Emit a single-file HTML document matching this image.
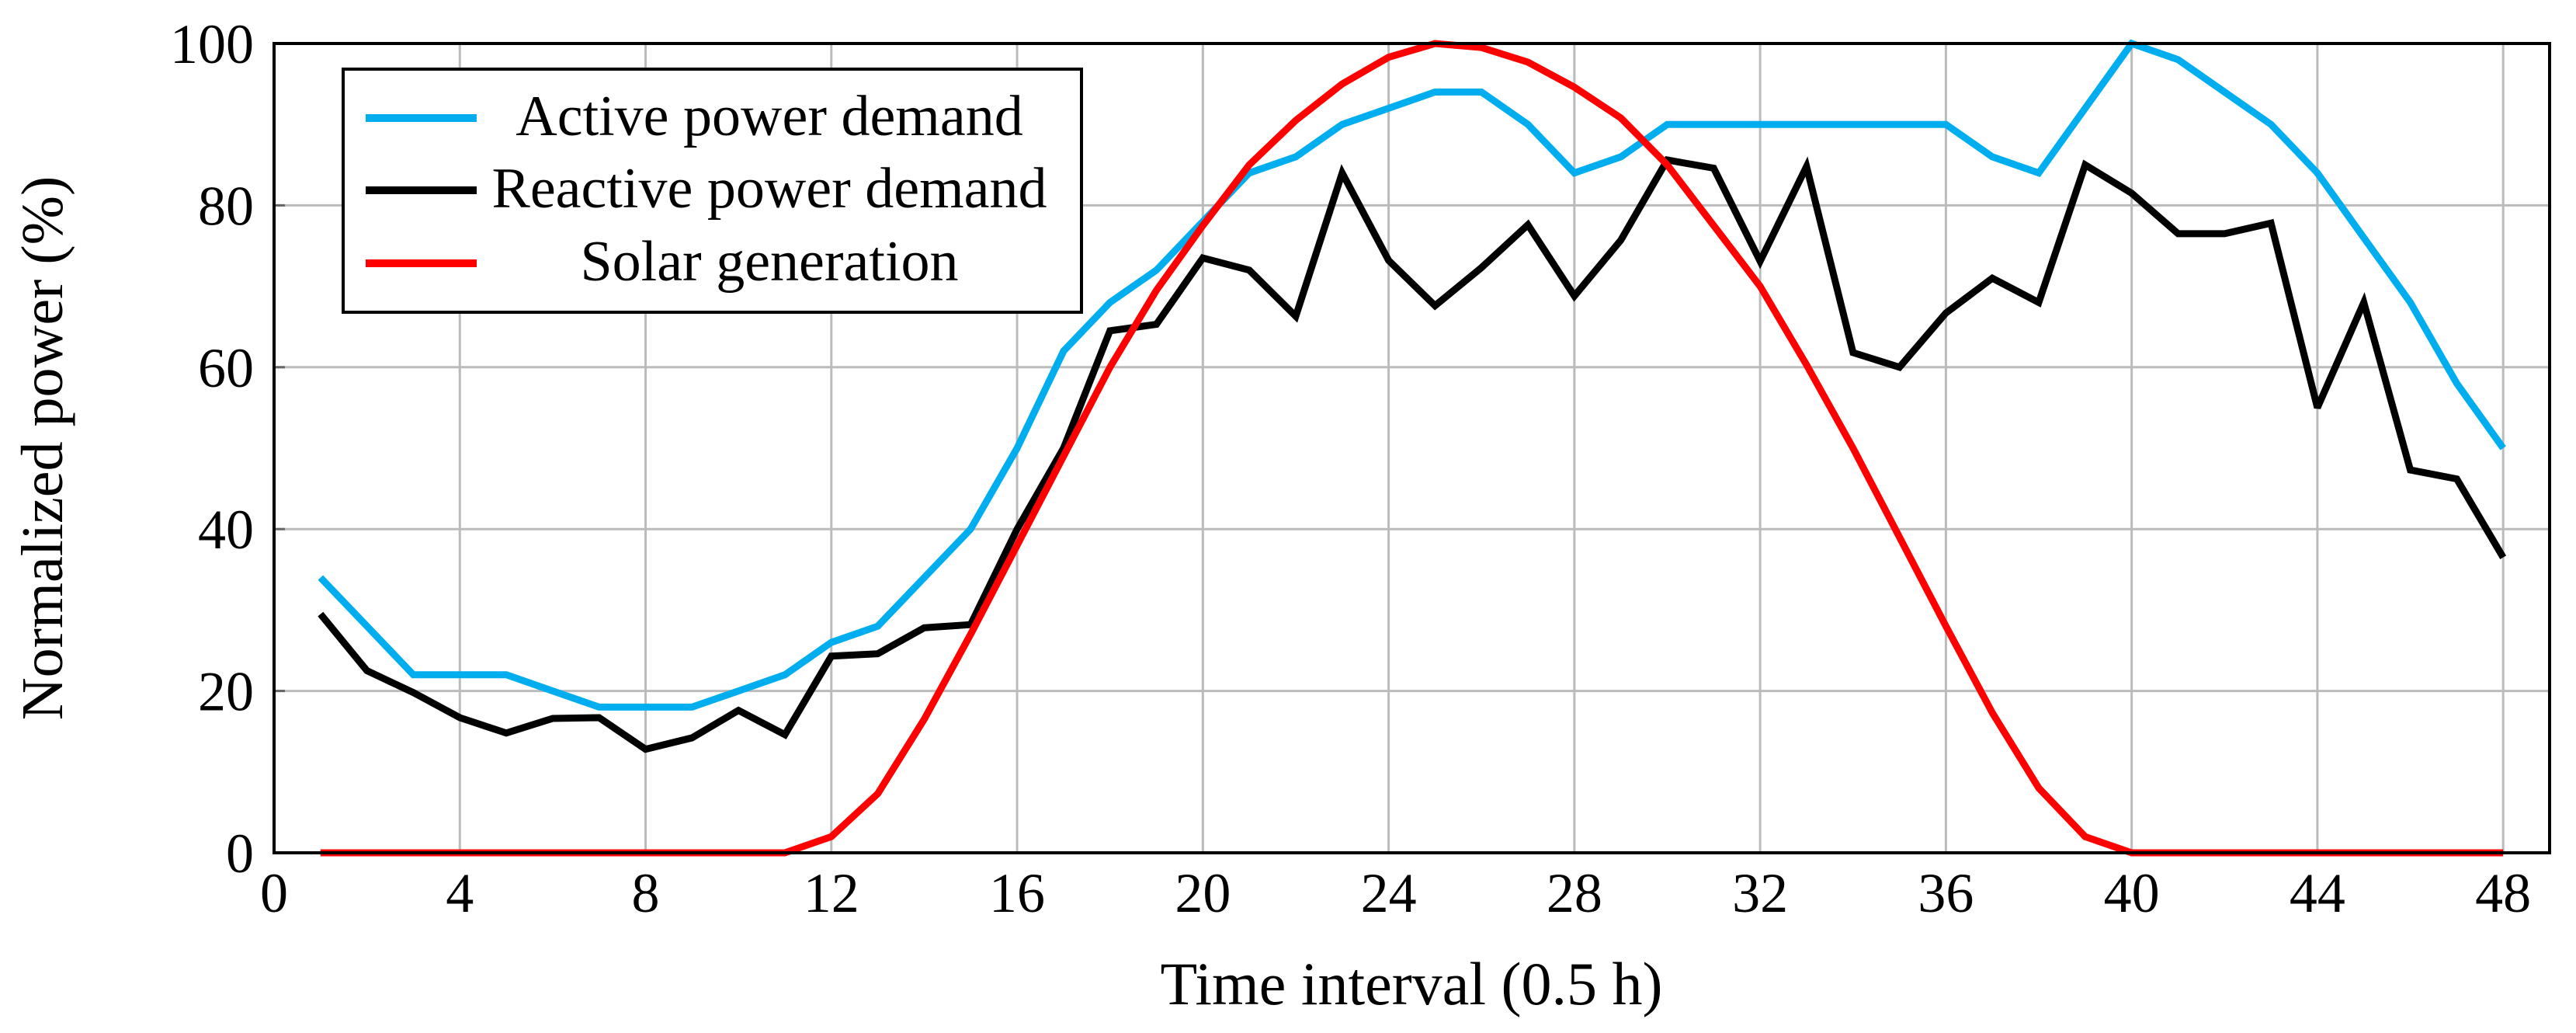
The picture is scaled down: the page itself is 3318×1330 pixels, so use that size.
<!DOCTYPE html>
<html><head><meta charset="utf-8"><style>
html,body{margin:0;padding:0;background:#fff;}
svg{display:block;font-family:"Liberation Serif",serif;}
</style></head><body>
<svg id="chart" width="3318" height="1330" xmlns="http://www.w3.org/2000/svg">
<g id="grid"></g>
<g id="series"></g>
<rect x="353" y="56" width="2931" height="1042" fill="none" stroke="#000" stroke-width="4"/>
<g id="ticks" font-size="72"></g>
<text x="1818" y="1293" font-size="78" text-anchor="middle">Time interval (0.5 h)</text>
<text transform="translate(80,577) rotate(-90)" font-size="76" text-anchor="middle">Normalized power (%)</text>
<g>
<rect x="442" y="89" width="951" height="313" fill="#fff" stroke="#000" stroke-width="4"/>
<line x1="471" y1="152" x2="614" y2="152" stroke="#00aeef" stroke-width="10"/>
<text x="991" y="174" font-size="74" text-anchor="middle">Active power demand</text>
<line x1="471" y1="245" x2="614" y2="245" stroke="#000" stroke-width="10"/>
<text x="991" y="267" font-size="74" text-anchor="middle">Reactive power demand</text>
<line x1="471" y1="339" x2="614" y2="339" stroke="#ff0000" stroke-width="10"/>
<text x="991" y="361" font-size="74" text-anchor="middle">Solar generation</text>
</g>
</svg>
<script>
const xTicks=[0,4,8,12,16,20,24,28,32,36,40,44,48];
const yTicks=[0,20,40,60,80,100];
const activeDemand=[34,28,22,22,22,20,18,18,18,20,22,26,28,34,40,50,62,68,72,78,84,86,90,92,94,94,90,84,86,90,90,90,90,90,90,90,86,84,92,100,98,94,90,84,76,68,58,50];
const reactiveDemand=[29.5,22.5,19.8,16.7,14.8,16.6,16.7,12.8,14.2,17.6,14.6,24.3,24.6,27.8,28.2,40,50,64.5,65.3,73.5,72,66.3,84,73.2,67.6,72.3,77.6,68.8,75.7,85.6,84.6,73.1,84.8,61.8,60,66.7,71,68,85,81.5,76.5,76.5,77.8,55,68,47.3,46.2,36.5];
const solarGeneration=[0,0,0,0,0,0,0,0,0,0,0,2,7.3,16.5,27,38,49,60,69.5,77.5,85,90.5,95,98.3,100,99.5,97.7,94.6,90.8,85,77.5,70,60.3,50,39,28,17.3,8,2,0,0,0,0,0,0,0,0,0];
const NS='http://www.w3.org/2000/svg';
const X0=353,X1=3284,Y0=1098,Y1=56,XMAX=49,YMAX=100;
const sx=v=>X0+(v/XMAX)*(X1-X0);
const sy=v=>Y0-(v/YMAX)*(Y0-Y1);
function mk(t,a,p){const e=document.createElementNS(NS,t);for(const k in a)e.setAttribute(k,a[k]);p.appendChild(e);return e;}
const grid=document.getElementById('grid'),ticks=document.getElementById('ticks'),series=document.getElementById('series');
xTicks.forEach(v=>{
  if(v>0){const l=mk('line',{x1:sx(v),x2:sx(v),y1:Y1,y2:Y0,stroke:'#bbb','stroke-width':3},grid);
  
  }
  const t=mk('text',{x:sx(v),y:Y0+76,'text-anchor':'middle'},ticks);t.textContent=v;
  
  
});
yTicks.forEach(v=>{
  if(v>0&&v<100){const l=mk('line',{x1:X0,x2:X1,y1:sy(v),y2:sy(v),stroke:'#bbb','stroke-width':3},grid);
  
  
  const m=mk('line',{x1:X0,x2:X0+14,y1:sy(v),y2:sy(v),stroke:'#666','stroke-width':3},grid);
  
  }
  const t=mk('text',{x:X0-26,y:sy(v)+25,'text-anchor':'end'},ticks);t.textContent=v;
  
  
});
function line(arr,color,name){
  const pts=arr.map((v,i)=>sx(i+1).toFixed(1)+','+sy(v).toFixed(1)).join(' ');
  const p=mk('polyline',{points:pts,fill:'none',stroke:color,'stroke-width':9,'stroke-linejoin':'miter','stroke-miterlimit':3},series);
  
  
}
line(activeDemand,'#00aeef','active-power-line');
line(reactiveDemand,'#000','reactive-power-line');
line(solarGeneration,'#ff0000','solar-generation-line');
</script>
</body></html>
